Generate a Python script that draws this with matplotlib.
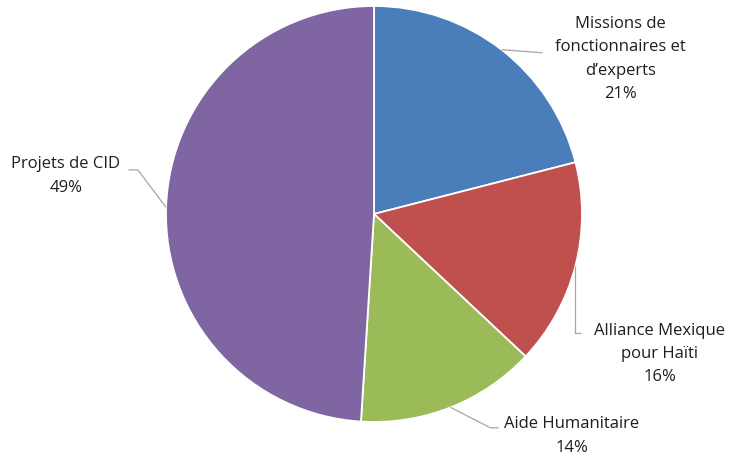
"""Répartition des dépenses par programme (camembert)."""

import matplotlib.pyplot as plt
import numpy as np

plt.rcParams["font.family"] = ["Open Sans", "DejaVu Sans"]

labels = ["Missions de\nfonctionnaires et\nd\u2019experts", "Alliance Mexique\npour Haïti",
          "Aide Humanitaire", "Projets de CID"]
shares = [21, 16, 14, 49]
colors = ["#4a7ebb", "#c0504d", "#9bbb59", "#7f65a1"]

# label block centres and leader anchors (data units, pie radius = 1)
label_pos = [(1.183, 0.745), (1.375, -0.673), (0.952, -1.067), (-1.481, 0.183)]
anchors = [[(0.81, 0.775)],
           [(None, -0.572), (0.995, -0.572)],
           [(0.56, -1.028), (0.60, -1.028)],
           [(-1.135, 0.212), (-1.18, 0.212)]]

fig = plt.figure(figsize=(7.35, 4.59), dpi=100)
ax = fig.add_axes([0, 0, 1, 1])

wedges, _ = ax.pie(shares, colors=colors, startangle=90, counterclock=False,
                   wedgeprops=dict(edgecolor="white", linewidth=1.3))

# pie() resets the limits, so place the view afterwards
ax.set_xlim(-374 / 208, (735 - 374) / 208)
ax.set_ylim(-(459 - 214) / 208, 214 / 208)
ax.axis("off")

for w, lab, val, (lx, ly), pts in zip(wedges, labels, shares, label_pos, anchors):
    mid = np.deg2rad((w.theta1 + w.theta2) / 2)
    ex, ey = np.cos(mid), np.sin(mid)
    xs, ys = [ex], [ey]
    for px, py in pts:
        xs.append(ex if px is None else px)
        ys.append(py)
    ax.plot(xs, ys, color="#a6a6a6", lw=0.9, solid_capstyle="butt")
    ax.text(lx, ly, f"{lab}\n{val}%", ha="center", va="center", fontsize=12,
            color="#1e1e1e", linespacing=1.6)

fig.savefig("out.png", dpi=100)
